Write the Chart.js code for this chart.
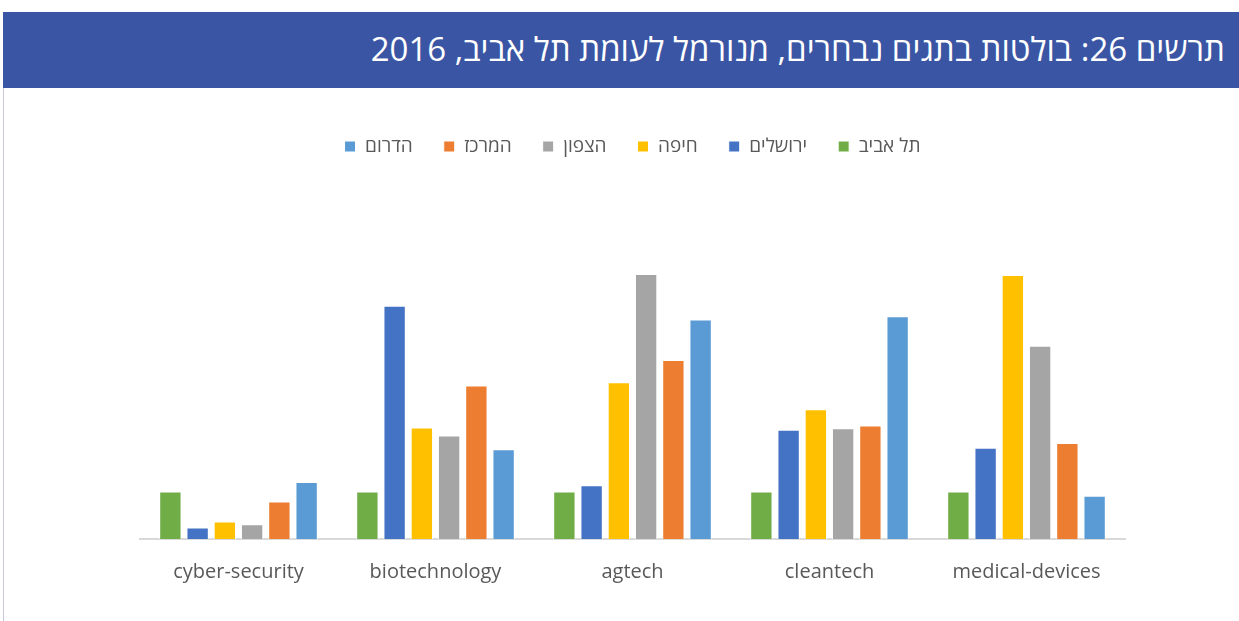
<!DOCTYPE html>
<html lang="he">
<head>
<meta charset="utf-8">
<script src="https://cdn.jsdelivr.net/npm/chart.js@4"></script>
<style>
  html, body { margin: 0; padding: 0; background: #fff; }
  body { width: 1239px; height: 621px; position: relative; overflow: hidden; font-family: "Open Sans", "DejaVu Sans", sans-serif; }
  .titlebar {
    position: absolute; left: 3px; top: 12px; width: 1236px; height: 76px;
    background: #3A55A4; color: #fff;
  }
  .titlebar h1 {
    margin: 0; position: absolute; right: 14px; top: 17px;
    font-size: 33px; font-weight: 400; line-height: 40px; direction: rtl;
  }
  .leftline { position: absolute; left: 3px; top: 88px; width: 1px; height: 533px; background: #C9C9DD; }
  .wrap { position: absolute; left: 0; top: 100px; width: 1239px; height: 521px; }
  canvas { display: block; }
</style>
</head>
<body>
<div class="titlebar"><h1>תרשים 26: בולטות בתגים נבחרים, מנורמל לעומת תל אביב, 2016</h1></div>
<div class="leftline"></div>
<div class="wrap"><canvas id="tagsChart" width="1239" height="521"></canvas></div>
<script>
const categories = ["cyber-security", "biotechnology", "agtech", "cleantech", "medical-devices"];

const telAviv   = [1.00, 1.00, 1.00, 1.00, 1.00];
const jerusalem = [0.24, 4.91, 1.13, 2.30, 1.92];
const haifa     = [0.37, 2.35, 3.30, 2.73, 5.56];
const north     = [0.31, 2.18, 5.58, 2.33, 4.07];
const center    = [0.79, 3.23, 3.77, 2.39, 2.02];
const south     = [1.20, 1.89, 4.62, 4.69, 0.91];

const seriesNames = ["תל אביב", "ירושלים", "חיפה", "הצפון", "המרכז", "הדרום"];

document.addEventListener("DOMContentLoaded", () => {
    const ctx = document.getElementById('tagsChart');
    if (!ctx) return;

    const colors = ["#70AD47", "#4472C4", "#FFC000", "#A5A5A5", "#ED7D31", "#5B9BD5"];
    const values = [telAviv, jerusalem, haifa, north, center, south];

    // extra room between the legend and the bars
    const legendGap = {
        id: 'legendGap',
        beforeInit(chart) {
            const fit = chart.legend.fit;
            chart.legend.fit = function () {
                fit.bind(chart.legend)();
                this.height += 88;
            };
        }
    };

    new Chart(ctx, {
        type: 'bar',
        data: {
            labels: categories,
            datasets: values.map((v, i) => ({
                label: seriesNames[i],
                data: v,
                backgroundColor: colors[i],
                borderColor: "#ffffff",
                borderWidth: 1,
                barPercentage: 0.82,
                categoryPercentage: 0.83
            }))
        },
        options: {
            responsive: false,
            animation: false,
            devicePixelRatio: 1,
            layout: { padding: { top: 6, left: 140, right: 114, bottom: 24 } },
            plugins: {
                legend: {
                    reverse: true,
                    labels: {
                        boxWidth: 11,
                        boxHeight: 11,
                        padding: 31,
                        color: "#595959",
                        font: { family: "'Open Sans', 'DejaVu Sans', sans-serif", size: 19 }
                    }
                },
                tooltip: { enabled: false }
            },
            scales: {
                x: {
                    grid: { display: false },
                    border: { color: "#D9D9D9", width: 2 },
                    ticks: {
                        padding: 13,
                        color: "#595959",
                        font: { family: "'Open Sans', 'DejaVu Sans', sans-serif", size: 20 }
                    }
                },
                y: {
                    display: false,
                    min: 0,
                    max: 6
                }
            }
        },
        plugins: [legendGap]
    });
});
</script>
</body>
</html>
